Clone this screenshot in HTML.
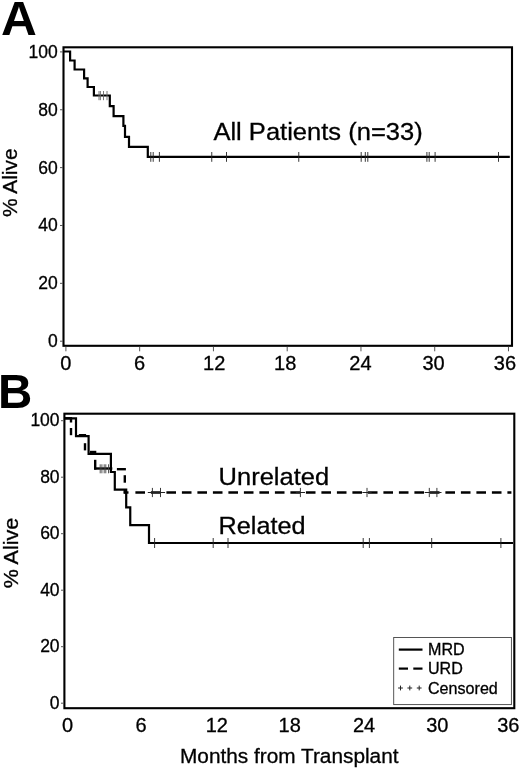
<!DOCTYPE html>
<html lang="en">
<head>
<meta charset="utf-8">
<title>Survival after transplant</title>
<style>
html,body{margin:0;padding:0;background:#fff;}
body{width:520px;height:769px;overflow:hidden;}
svg{display:block;}
svg text{font-family:'Liberation Sans', Arial, Helvetica, sans-serif;stroke:#000;stroke-width:0.3px;}
</style>
</head>
<body>
<svg width="520" height="769" viewBox="0 0 520 769">
<rect x="0" y="0" width="520" height="769" fill="#fff"/>
<rect x="63.50" y="47.30" width="448.50" height="298.50" fill="none" stroke="#000" stroke-width="2.1"/>
<line x1="65.90" y1="346.80" x2="65.90" y2="351.30" stroke="#555" stroke-width="1.0" />
<text x="65.90" y="370.30" font-size="20" text-anchor="middle" font-weight="normal" fill="#000" >0</text>
<line x1="139.66" y1="346.80" x2="139.66" y2="351.30" stroke="#555" stroke-width="1.0" />
<text x="139.66" y="370.30" font-size="20" text-anchor="middle" font-weight="normal" fill="#000" >6</text>
<line x1="213.43" y1="346.80" x2="213.43" y2="351.30" stroke="#555" stroke-width="1.0" />
<text x="214.23" y="370.30" font-size="20" text-anchor="middle" font-weight="normal" fill="#000" >12</text>
<line x1="287.19" y1="346.80" x2="287.19" y2="351.30" stroke="#555" stroke-width="1.0" />
<text x="285.19" y="370.30" font-size="20" text-anchor="middle" font-weight="normal" fill="#000" >18</text>
<line x1="360.96" y1="346.80" x2="360.96" y2="351.30" stroke="#555" stroke-width="1.0" />
<text x="360.46" y="370.30" font-size="20" text-anchor="middle" font-weight="normal" fill="#000" >24</text>
<line x1="434.72" y1="346.80" x2="434.72" y2="351.30" stroke="#555" stroke-width="1.0" />
<text x="433.52" y="370.30" font-size="20" text-anchor="middle" font-weight="normal" fill="#000" >30</text>
<line x1="508.48" y1="346.80" x2="508.48" y2="351.30" stroke="#555" stroke-width="1.0" />
<text x="504.98" y="370.30" font-size="20" text-anchor="middle" font-weight="normal" fill="#000" >36</text>
<line x1="60.00" y1="341.20" x2="63.00" y2="341.20" stroke="#555" stroke-width="1.0" />
<text x="57.70" y="347.15" font-size="17.5" text-anchor="end" font-weight="normal" fill="#000" >0</text>
<line x1="60.00" y1="283.34" x2="63.00" y2="283.34" stroke="#555" stroke-width="1.0" />
<text x="57.70" y="289.29" font-size="17.5" text-anchor="end" font-weight="normal" fill="#000" >20</text>
<line x1="60.00" y1="225.48" x2="63.00" y2="225.48" stroke="#555" stroke-width="1.0" />
<text x="57.70" y="231.43" font-size="17.5" text-anchor="end" font-weight="normal" fill="#000" >40</text>
<line x1="60.00" y1="167.62" x2="63.00" y2="167.62" stroke="#555" stroke-width="1.0" />
<text x="57.70" y="173.57" font-size="17.5" text-anchor="end" font-weight="normal" fill="#000" >60</text>
<line x1="60.00" y1="109.76" x2="63.00" y2="109.76" stroke="#555" stroke-width="1.0" />
<text x="57.70" y="115.71" font-size="17.5" text-anchor="end" font-weight="normal" fill="#000" >80</text>
<line x1="60.00" y1="51.90" x2="63.00" y2="51.90" stroke="#555" stroke-width="1.0" />
<text x="57.70" y="57.85" font-size="17.5" text-anchor="end" font-weight="normal" fill="#000" >100</text>
<path d="M64,51.5 H70.1 V60.5 H74.6 V69.5 H84.1 V78.3 H87.6 V87 H93.9 V95.5 H109.8 V106.1 H113.6 V116.2 H123.4 V125.8 H125 V136.8 H129 V146.9 H147.8 V156.9 H509.8" fill="none" stroke="#000" stroke-width="2.2" stroke-linejoin="miter"/>
<line x1="99.00" y1="91.00" x2="99.00" y2="100.20" stroke="#666" stroke-width="0.9" />
<line x1="100.40" y1="91.00" x2="100.40" y2="100.20" stroke="#666" stroke-width="0.9" />
<line x1="103.50" y1="91.00" x2="103.50" y2="100.20" stroke="#666" stroke-width="0.9" />
<line x1="107.00" y1="91.00" x2="107.00" y2="100.20" stroke="#666" stroke-width="0.9" />
<line x1="150.80" y1="152.00" x2="150.80" y2="161.80" stroke="#222" stroke-width="0.9" />
<line x1="153.20" y1="152.00" x2="153.20" y2="161.80" stroke="#222" stroke-width="0.9" />
<line x1="159.40" y1="152.00" x2="159.40" y2="161.80" stroke="#222" stroke-width="0.9" />
<line x1="211.75" y1="152.00" x2="211.75" y2="161.80" stroke="#222" stroke-width="0.9" />
<line x1="226.50" y1="152.00" x2="226.50" y2="161.80" stroke="#222" stroke-width="0.9" />
<line x1="298.75" y1="152.00" x2="298.75" y2="161.80" stroke="#222" stroke-width="0.9" />
<line x1="361.20" y1="152.00" x2="361.20" y2="161.80" stroke="#222" stroke-width="0.9" />
<line x1="365.30" y1="152.00" x2="365.30" y2="161.80" stroke="#222" stroke-width="0.9" />
<line x1="367.80" y1="152.00" x2="367.80" y2="161.80" stroke="#222" stroke-width="0.9" />
<line x1="426.90" y1="152.00" x2="426.90" y2="161.80" stroke="#222" stroke-width="0.9" />
<line x1="429.20" y1="152.00" x2="429.20" y2="161.80" stroke="#222" stroke-width="0.9" />
<line x1="435.10" y1="152.00" x2="435.10" y2="161.80" stroke="#222" stroke-width="0.9" />
<line x1="498.50" y1="152.00" x2="498.50" y2="161.80" stroke="#222" stroke-width="0.9" />
<text x="213.40" y="140.00" font-size="24.6" text-anchor="start" font-weight="normal" fill="#000" textLength="209.30" lengthAdjust="spacingAndGlyphs" >All Patients (n=33)</text>
<text transform="translate(16.5,182.75) rotate(-90)" font-size="20" text-anchor="middle" textLength="68.5" lengthAdjust="spacingAndGlyphs">% Alive</text>
<text transform="translate(0.9,35.3) scale(1.045,1)" font-size="47.5" font-weight="bold" style="stroke:none">A</text>
<rect x="64.40" y="413.70" width="449.90" height="294.50" fill="none" stroke="#000" stroke-width="2.1"/>
<text x="67.60" y="732.20" font-size="20" text-anchor="middle" font-weight="normal" fill="#000" >0</text>
<text x="140.98" y="732.20" font-size="20" text-anchor="middle" font-weight="normal" fill="#000" >6</text>
<text x="216.86" y="732.20" font-size="20" text-anchor="middle" font-weight="normal" fill="#000" >12</text>
<text x="289.74" y="732.20" font-size="20" text-anchor="middle" font-weight="normal" fill="#000" >18</text>
<text x="364.12" y="732.20" font-size="20" text-anchor="middle" font-weight="normal" fill="#000" >24</text>
<text x="437.30" y="732.20" font-size="20" text-anchor="middle" font-weight="normal" fill="#000" >30</text>
<text x="508.38" y="732.20" font-size="20" text-anchor="middle" font-weight="normal" fill="#000" >36</text>
<line x1="61.00" y1="703.20" x2="64.00" y2="703.20" stroke="#555" stroke-width="1.0" />
<text x="59.60" y="708.55" font-size="17.5" text-anchor="end" font-weight="normal" fill="#000" >0</text>
<line x1="61.00" y1="646.70" x2="64.00" y2="646.70" stroke="#555" stroke-width="1.0" />
<text x="59.60" y="652.05" font-size="17.5" text-anchor="end" font-weight="normal" fill="#000" >20</text>
<line x1="61.00" y1="590.20" x2="64.00" y2="590.20" stroke="#555" stroke-width="1.0" />
<text x="59.60" y="595.55" font-size="17.5" text-anchor="end" font-weight="normal" fill="#000" >40</text>
<line x1="61.00" y1="533.70" x2="64.00" y2="533.70" stroke="#555" stroke-width="1.0" />
<text x="59.60" y="539.05" font-size="17.5" text-anchor="end" font-weight="normal" fill="#000" >60</text>
<line x1="61.00" y1="477.20" x2="64.00" y2="477.20" stroke="#555" stroke-width="1.0" />
<text x="59.60" y="482.55" font-size="17.5" text-anchor="end" font-weight="normal" fill="#000" >80</text>
<line x1="61.00" y1="420.70" x2="64.00" y2="420.70" stroke="#555" stroke-width="1.0" />
<text x="59.60" y="426.05" font-size="17.5" text-anchor="end" font-weight="normal" fill="#000" >100</text>
<path d="M65,418.3 H76.0 V436.1 H88.6 V453.9 H110.9 V472.0 H114.8 V489.7 H126.2 V507.4 H130.25 V525.2 H149 V543.0 H513" fill="none" stroke="#000" stroke-width="2.2" stroke-linejoin="miter"/>
<line x1="65.00" y1="418.30" x2="72.10" y2="418.30" stroke="#000" stroke-width="2.4" />
<line x1="71.00" y1="418.30" x2="71.00" y2="422.50" stroke="#000" stroke-width="2.4" />
<line x1="71.00" y1="428.00" x2="71.00" y2="435.20" stroke="#000" stroke-width="2.4" />
<line x1="78.80" y1="435.20" x2="86.10" y2="435.20" stroke="#000" stroke-width="2.4" />
<line x1="85.00" y1="443.20" x2="85.00" y2="450.40" stroke="#000" stroke-width="2.4" />
<line x1="90.00" y1="452.00" x2="96.30" y2="452.00" stroke="#000" stroke-width="2.4" />
<line x1="95.20" y1="459.80" x2="95.20" y2="469.60" stroke="#000" stroke-width="2.4" />
<line x1="94.10" y1="468.50" x2="112.30" y2="468.50" stroke="#000" stroke-width="2.4" />
<line x1="116.90" y1="469.20" x2="125.90" y2="469.20" stroke="#000" stroke-width="2.4" />
<line x1="124.80" y1="475.20" x2="124.80" y2="482.70" stroke="#000" stroke-width="2.4" />
<line x1="124.80" y1="489.00" x2="124.80" y2="493.60" stroke="#000" stroke-width="2.4" />
<line x1="123.70" y1="492.50" x2="128.50" y2="492.50" stroke="#000" stroke-width="2.4" />
<path d="M135.4,492.5 H511.4" fill="none" stroke="#000" stroke-width="2.4" stroke-dasharray="9.6 5.9"/>
<line x1="100.20" y1="464.30" x2="100.20" y2="473.30" stroke="#444" stroke-width="0.9" />
<line x1="101.90" y1="464.30" x2="101.90" y2="473.30" stroke="#444" stroke-width="0.9" />
<line x1="104.20" y1="464.30" x2="104.20" y2="473.30" stroke="#444" stroke-width="0.9" />
<line x1="105.80" y1="464.30" x2="105.80" y2="473.30" stroke="#444" stroke-width="0.9" />
<line x1="108.50" y1="464.30" x2="108.50" y2="473.30" stroke="#444" stroke-width="0.9" />
<line x1="152.40" y1="487.90" x2="152.40" y2="497.10" stroke="#222" stroke-width="0.9" />
<line x1="147.80" y1="492.50" x2="157.00" y2="492.50" stroke="#222" stroke-width="1.0" />
<line x1="160.50" y1="487.90" x2="160.50" y2="497.10" stroke="#222" stroke-width="0.9" />
<line x1="155.90" y1="492.50" x2="165.10" y2="492.50" stroke="#222" stroke-width="1.0" />
<line x1="300.40" y1="487.90" x2="300.40" y2="497.10" stroke="#222" stroke-width="0.9" />
<line x1="295.80" y1="492.50" x2="305.00" y2="492.50" stroke="#222" stroke-width="1.0" />
<line x1="367.00" y1="487.90" x2="367.00" y2="497.10" stroke="#222" stroke-width="0.9" />
<line x1="362.40" y1="492.50" x2="371.60" y2="492.50" stroke="#222" stroke-width="1.0" />
<line x1="429.30" y1="487.90" x2="429.30" y2="497.10" stroke="#222" stroke-width="0.9" />
<line x1="424.70" y1="492.50" x2="433.90" y2="492.50" stroke="#222" stroke-width="1.0" />
<line x1="436.90" y1="487.90" x2="436.90" y2="497.10" stroke="#222" stroke-width="0.9" />
<line x1="432.30" y1="492.50" x2="441.50" y2="492.50" stroke="#222" stroke-width="1.0" />
<line x1="154.60" y1="538.00" x2="154.60" y2="548.00" stroke="#222" stroke-width="0.9" />
<line x1="213.20" y1="538.00" x2="213.20" y2="548.00" stroke="#222" stroke-width="0.9" />
<line x1="228.00" y1="538.00" x2="228.00" y2="548.00" stroke="#222" stroke-width="0.9" />
<line x1="363.20" y1="538.00" x2="363.20" y2="548.00" stroke="#222" stroke-width="0.9" />
<line x1="369.40" y1="538.00" x2="369.40" y2="548.00" stroke="#222" stroke-width="0.9" />
<line x1="431.70" y1="538.00" x2="431.70" y2="548.00" stroke="#222" stroke-width="0.9" />
<line x1="500.90" y1="538.00" x2="500.90" y2="548.00" stroke="#222" stroke-width="0.9" />
<text x="218.60" y="484.70" font-size="24.6" text-anchor="start" font-weight="normal" fill="#000" textLength="110.50" lengthAdjust="spacingAndGlyphs" >Unrelated</text>
<text x="218.60" y="533.50" font-size="24.6" text-anchor="start" font-weight="normal" fill="#000" textLength="87.00" lengthAdjust="spacingAndGlyphs" >Related</text>
<rect x="393.7" y="637.5" width="117.7" height="67.1" fill="#fff" stroke="#444" stroke-width="0.9"/>
<line x1="398.80" y1="649.60" x2="422.50" y2="649.60" stroke="#000" stroke-width="2.2" />
<text x="428.00" y="655.40" font-size="16.1" text-anchor="start" font-weight="normal" fill="#000" >MRD</text>
<line x1="398.80" y1="668.60" x2="408.00" y2="668.60" stroke="#000" stroke-width="2.2" />
<line x1="413.30" y1="668.60" x2="422.50" y2="668.60" stroke="#000" stroke-width="2.2" />
<text x="428.00" y="674.40" font-size="16.1" text-anchor="start" font-weight="normal" fill="#000" >URD</text>
<line x1="398.10" y1="688.00" x2="402.90" y2="688.00" stroke="#222" stroke-width="1.0" />
<line x1="400.50" y1="685.60" x2="400.50" y2="690.40" stroke="#222" stroke-width="1.0" />
<line x1="407.40" y1="688.00" x2="412.20" y2="688.00" stroke="#222" stroke-width="1.0" />
<line x1="409.80" y1="685.60" x2="409.80" y2="690.40" stroke="#222" stroke-width="1.0" />
<line x1="416.80" y1="688.00" x2="421.60" y2="688.00" stroke="#222" stroke-width="1.0" />
<line x1="419.20" y1="685.60" x2="419.20" y2="690.40" stroke="#222" stroke-width="1.0" />
<text x="428.00" y="693.70" font-size="16.1" text-anchor="start" font-weight="normal" fill="#000" >Censored</text>
<text transform="translate(18.2,553.1) rotate(-90)" font-size="20" text-anchor="middle" textLength="70.4" lengthAdjust="spacingAndGlyphs">% Alive</text>
<text x="180.00" y="762.70" font-size="20.5" text-anchor="start" font-weight="normal" fill="#000" textLength="218.50" lengthAdjust="spacingAndGlyphs" >Months from Transplant</text>
<text x="-2.00" y="408.10" font-size="47.5" text-anchor="start" font-weight="bold" fill="#000" style="stroke:none">B</text>
</svg>
</body>
</html>
